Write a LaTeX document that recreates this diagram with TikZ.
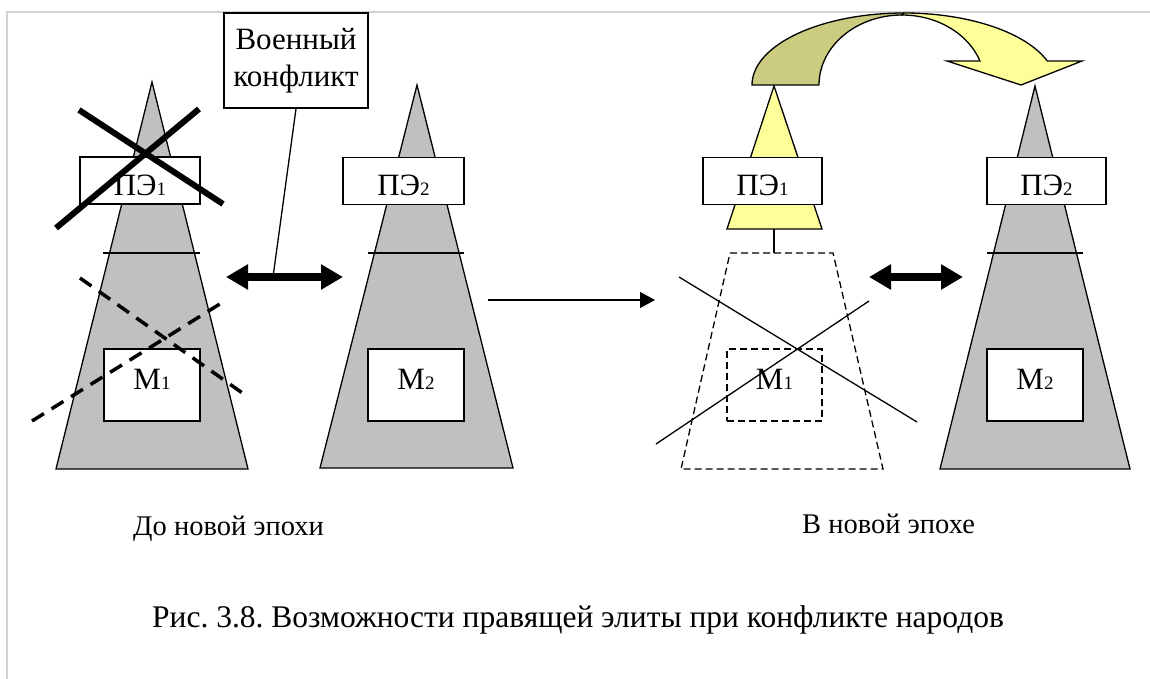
\documentclass[tikz,border=0pt]{standalone}
\usepackage{fontspec}
\setmainfont{Liberation Serif}
\usetikzlibrary{arrows.meta}
\definecolor{triGray}{RGB}{192,192,192}
\definecolor{paleYellow}{RGB}{255,255,153}
\definecolor{olive}{RGB}{204,204,128}
\definecolor{frameGray}{RGB}{210,210,210}
\newcommand{\sub}[1]{{\fontsize{19}{19}\selectfont #1}}
\frenchspacing
\begin{document}
\begin{tikzpicture}[x=1pt,y=-1pt,
  tri/.style={draw=black,fill=triGray,line width=1.3pt,line join=miter},
  ytri/.style={draw=black,fill=paleYellow,line width=1.3pt},
  hline/.style={draw=black,line width=1.3pt},
  box/.style={draw=black,fill=white,line width=1.5pt,inner sep=0pt,
    font=\fontsize{31}{31}\selectfont},
  pebox/.style={box,minimum width=120pt,minimum height=47pt,text height=29pt,text depth=0pt},
  mbox/.style={box,minimum width=96pt,minimum height=72pt,text height=22pt,text depth=14pt},
  dashbox/.style={draw=black,line width=1.3pt,dash pattern=on 7pt off 4pt},
  bigx/.style={draw=black,line width=6pt},
  dashx/.style={draw=black,line width=3.5pt,dash pattern=on 14pt off 9pt},
  thinx/.style={draw=black,line width=1.3pt},
  dblarrow/.style={draw=black,line width=8pt,
    {Triangle[length=22pt,width=24pt]}-{Triangle[length=22pt,width=24pt]}},
  onearrow/.style={draw=black,line width=1.3pt,-{Triangle[length=15pt,width=16pt]}},
  epoch/.style={font=\fontsize{28.5}{28.5}\selectfont,anchor=base west,inner sep=0pt},
  caption/.style={font=\fontsize{31.5}{31.5}\selectfont,anchor=base west,inner sep=0pt}
]
\useasboundingbox (0,0) rectangle (1150,679);
\fill[white] (0,0) rectangle (1150,679);
\draw[frameGray,line width=1.2pt] (7,679) -- (7,12) -- (1150,12);

% ---------------- left pyramid 1 ----------------
\path[tri] (152,82) -- (248,469) -- (56,469) -- cycle;
\draw[hline] (103,253) -- (200,253);
\node[pebox] (pe1a) at (140,180.5) {ПЭ\sub{1}};
\node[mbox] (m1a) at (152,385) {М\sub{1}};

% ---------------- left pyramid 2 ----------------
\path[tri] (417,85) -- (513,468) -- (320,468) -- cycle;
\draw[hline] (368,253) -- (464,253);
\node[pebox,minimum width=121pt] (pe2a) at (403.5,181) {ПЭ\sub{2}};
\node[mbox] (m2a) at (416,385) {М\sub{2}};

% crosses over pyramid 1
\draw[bigx] (79,110) -- (223,204);
\draw[bigx] (199,109) -- (56,228);
\draw[dashx] (80,278) -- (248,397);
\draw[dashx] (32,421) -- (223,302);

% military conflict label and arrow
\node[draw=black,fill=white,line width=1.5pt,minimum width=144pt,minimum height=95pt,
      align=center,font=\fontsize{31}{37}\selectfont,inner sep=0pt] (vk) at (296,60.5)
      {Военный\\конфликт};
\coordinate (da1) at (226,277);
\coordinate (da2) at (343,277);
\coordinate (lead) at (273,277);
\draw[dblarrow] (da1) -- (da2);
\draw[black,line width=1.3pt] (vk.south) -- (lead);

% transition arrow
\coordinate (ta1) at (488,300);
\coordinate (ta2) at (655,300);
\draw[onearrow] (ta1) -- (ta2);

% ---------------- right group ----------------
\path[ytri] (774,86) -- (822,229) -- (727,229) -- cycle;
\node[pebox,minimum width=119pt] (pe1b) at (762.5,181) {ПЭ\sub{1}};
\coordinate (yb) at (774,229);
\coordinate (tt) at (774,253);
\draw[hline] (yb) -- (tt);
\draw[dashbox] (730,253) -- (833,253) -- (883,469) -- (681,469) -- cycle;
\node[dashbox,minimum width=95pt,minimum height=72pt,inner sep=0pt,
      text height=22pt,text depth=14pt,font=\fontsize{31}{31}\selectfont] (m1b) at (774.5,385) {М\sub{1}};
\draw[thinx] (679,277) -- (917,422);
\draw[thinx] (656,444) -- (869,301);

\coordinate (db1) at (869,277);
\coordinate (db2) at (963,277);
\draw[dblarrow] (db1) -- (db2);

\path[tri] (1035,86) -- (1130,469) -- (940,469) -- cycle;
\draw[hline] (987,253) -- (1083,253);
\node[pebox,minimum width=119pt] (pe2b) at (1046.5,181) {ПЭ\sub{2}};
\node[mbox] (m2b) at (1035,385) {М\sub{2}};

% curved arrow (back part)
\path[draw=black,fill=olive,line width=1.3pt,line join=round]
  plot[domain=180:270,samples=40] ({904+152*cos(\x)},{85+72*sin(\x)})
  -- plot[domain=270:180,samples=40] ({902+83*cos(\x)},{85+70*sin(\x)})
  -- cycle;
% curved arrow (front part)
\path[draw=black,fill=paleYellow,line width=1.3pt,line join=miter]
  plot[domain=270:340.5,samples=40] ({904+152*cos(\x)},{85+72*sin(\x)})
  -- (1082,61) -- (1021,85) -- (947,61)
  -- plot[domain=340:270,samples=40] ({902+83*cos(\x)},{85+70*sin(\x)})
  -- cycle;

% texts
\node[epoch] (t1) at (133,535) {До новой эпохи};
\node[epoch] (t2) at (802,533) {В новой эпохе};
\node[caption] (t3) at (152,627) {Рис. 3.8. Возможности правящей элиты при конфликте народов};
\end{tikzpicture}
\end{document}
